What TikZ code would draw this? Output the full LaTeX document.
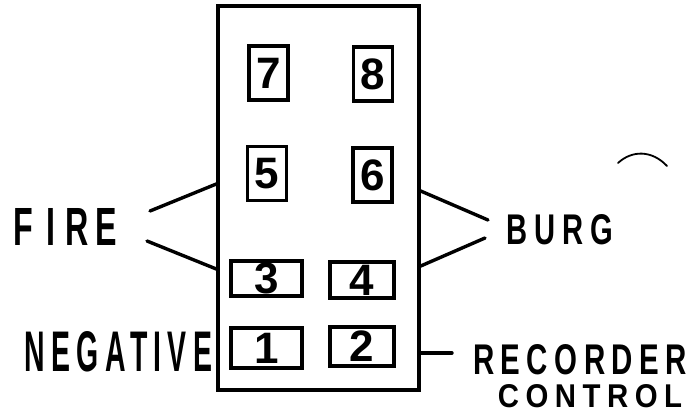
\documentclass[tikz,border=0pt]{standalone}
\usepackage{fontspec}
\setmainfont{Liberation Sans}
\newcommand{\wirew}{3.4pt}
\newcommand{\digitsize}{\fontsize{44}{44}\selectfont\bfseries}
\newcommand{\lettering}[3]{\resizebox{#1}{#2}{\bfseries\addfontfeature{LetterSpace=22}#3}}

\begin{document}
\begin{tikzpicture}[x=1pt,y=-1pt]
        \begin{scope}
            %\draw[help lines, step=50] (0,0) grid (693,413);
            \useasboundingbox (0,0) rectangle (693,413);
            \tikzset{pinbox/.style = {draw, line width=\wirew, inner sep=0pt, font=\digitsize},
                     tallbox/.style = {pinbox, minimum width=39pt, minimum height=54pt},
                     widebox/.style = {pinbox, minimum width=68pt, minimum height=37pt},
                     wire/.style = {line width=\wirew, line cap=round},
                     lbl/.style = {inner sep=0pt}}
            \node[draw, line width=\wirew, minimum width=201pt, minimum height=384pt] (panel) at (318.5,198) {};

            \node[tallbox] (p7) at (268.5,73) {7};
            \node[tallbox] (p8) at (373,74) {8};
            \node[tallbox] (p5) at (267,173.5) {5};
            \node[tallbox] (p6) at (372.5,175) {6};
            \node[widebox, minimum width=71pt, minimum height=35pt] (p3) at (266.5,278.5) {3};
            \node[widebox, minimum width=64pt, minimum height=36pt] (p4) at (362,280) {4};
            \node[widebox, minimum width=71pt, minimum height=40pt] (p1) at (266.5,348) {1};
            \node[widebox, minimum width=64pt, minimum height=39pt] (p2) at (362,346.5) {2};

            \node[lbl] (fire) at (65.5,226.5) {\lettering{103pt}{37pt}{F\hspace{0.4em}I\hspace{0.3em}RE}};
            \node[lbl] (negative) at (118.5,351.5) {\lettering{187pt}{40pt}{NEGATIVE}};
            \node[lbl] (burg) at (560,230) {\lettering{106pt}{30pt}{BU\hspace{0.25em}RG}};
            \node[lbl] (recorder) at (580,360) {\lettering{214pt}{30pt}{RECORDER}};
            \node[lbl] (control) at (590,396) {\lettering{184pt}{23pt}{CONTROL}};

            \coordinate (fireup) at (150,211);
            \coordinate (firedown) at (147,241);
            \coordinate (burgup) at (488,220);
            \coordinate (burgdown) at (485,238);
            \coordinate (rec) at (452,353);
            \coordinate (arcl) at (618,163);
            \coordinate (arcr) at (667,166);

            \draw[wire] (fireup) -- ([yshift=14pt]panel.west);
            \draw[wire] (firedown) -- ([yshift=-71pt]panel.west);
            \draw[wire] (burgup) -- ([yshift=7pt]panel.east);
            \draw[wire] (burgdown) -- ([yshift=-68pt]panel.east);
            \draw[wire] (rec) -- ([yshift=-155pt]panel.east);
            \draw[line width=1.8pt, line cap=round] (arcl) .. controls (632,150) and (652,150) .. (arcr);
        \end{scope}
    \end{tikzpicture}
\end{document}
